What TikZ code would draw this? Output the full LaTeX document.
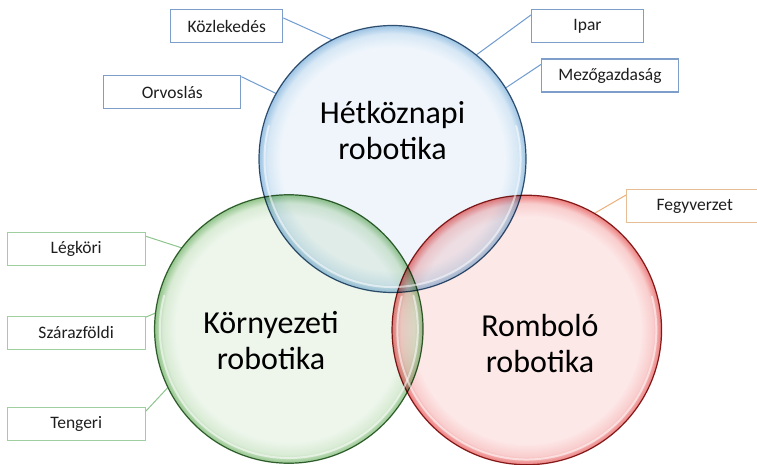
\documentclass[tikz,border=0pt]{standalone}
\usepackage{fontspec}
\setmainfont{Carlito}
\usetikzlibrary{calc}
\definecolor{bluein}{HTML}{EFF5FB}
\definecolor{bluemid}{HTML}{D6E7F5}
\definecolor{bluerim}{HTML}{9CC3E3}
\definecolor{blueline}{HTML}{3B5A78}
\definecolor{greenin}{HTML}{EEF6EC}
\definecolor{greenmid}{HTML}{D8EBD4}
\definecolor{greenrim}{HTML}{93C58C}
\definecolor{greenline}{HTML}{3D6B3A}
\definecolor{redin}{HTML}{FDE8E8}
\definecolor{redmid}{HTML}{F9CDCD}
\definecolor{redrim}{HTML}{EC7D7D}
\definecolor{redline}{HTML}{8B2323}
\definecolor{boxblue}{HTML}{7D9EC9}
\definecolor{lineblue}{HTML}{6F9BD0}
\definecolor{boxgreen}{HTML}{9FCF9F}
\definecolor{linegreen}{HTML}{8EC58E}
\definecolor{boxorange}{HTML}{E6BE96}
\definecolor{lineorange}{HTML}{EEB07A}
\definecolor{txt}{HTML}{1E1E1E}
\pgfdeclareradialshading{bluebub}{\pgfpoint{0bp}{0bp}}{color(0bp)=(bluein); color(21bp)=(bluein); color(23.5bp)=(bluemid); color(25bp)=(bluerim); color(50bp)=(bluerim)}
\pgfdeclareradialshading{greenbub}{\pgfpoint{0bp}{0bp}}{color(0bp)=(greenin); color(21bp)=(greenin); color(23.5bp)=(greenmid); color(25bp)=(greenrim); color(50bp)=(greenrim)}
\pgfdeclareradialshading{redbub}{\pgfpoint{0bp}{0bp}}{color(0bp)=(redin); color(21bp)=(redin); color(23.5bp)=(redmid); color(25bp)=(redrim); color(50bp)=(redrim)}
\begin{document}
\begin{tikzpicture}[x=1pt,y=-1pt,
  lbl/.style={draw, line width=1.1pt, fill=white, minimum height=33pt, inner sep=0pt,
    font=\fontsize{17.5}{20}\selectfont, text=txt},
  lblue/.style={lbl, draw=boxblue},
  lgreen/.style={lbl, draw=boxgreen},
  lorange/.style={lbl, draw=boxorange},
  link/.style={line width=1pt},
  big/.style={font=\fontsize{32}{36}\selectfont, align=center, text=black, inner sep=0pt},
  bub/.style={circle, inner sep=0pt, line width=1.2pt},
  glare/.style={white, line width=2pt, opacity=0.55, line cap=round}
]
\useasboundingbox (0,0) rectangle (757,465);
\fill[white] (0,0) rectangle (757,465);

% label boxes
\node[lblue, minimum width=112pt] (kz) at (226.7,26) {Közlekedés};
\node[lblue, minimum width=137pt] (or) at (172.3,92.2) {Orvoslás};
\node[lblue, minimum width=112pt] (ip) at (587.5,26) {Ipar};
\node[lblue, minimum width=137pt] (mz) at (610,75.5) {Mezőgazdaság};
\node[lorange, minimum width=136pt] (fg) at (694.7,206) {Fegyverzet};
\node[lgreen, minimum width=138pt] (lg) at (76.2,249.3) {Légköri};
\node[lgreen, minimum width=138pt] (sz) at (76.2,332.7) {Szárazföldi};
\node[lgreen, minimum width=138pt] (tg) at (76.2,423.8) {Tengeri};

% connector ends inside circles
\coordinate (kzp) at (350,48);
\coordinate (orp) at (282.7,96.7);
\coordinate (ipp) at (471.7,58.3);
\coordinate (mzp) at (500,91.7);
\coordinate (fgp) at (593.3,214);
\coordinate (lgp) at (188.3,250);
\coordinate (szp) at (176.7,304);
\coordinate (tgp) at (173.3,381.7);

\draw[link, lineblue] ([yshift=-9pt]kz.north east) -- (kzp);
\draw[link, lineblue] ([yshift=-1.5pt]or.north east) -- (orp);
\draw[link, lineblue] ([yshift=-6pt]ip.north west) -- (ipp);
\draw[link, lineblue] ([yshift=-6pt]mz.north west) -- (mzp);
\draw[link, lineorange] ([yshift=-6pt]fg.north west) -- (fgp);
\draw[link, linegreen] ([yshift=-4pt]lg.north east) -- (lgp);
\draw[link, linegreen] ([yshift=-1.5pt]sz.north east) -- (szp);
\draw[link, linegreen] ([yshift=-4.5pt]tg.north east) -- (tgp);

% bubbles
\begin{scope}[blend group=multiply]
  \node[bub, minimum size=267pt, shading=bluebub, draw=blueline] (hc) at (392.5,159) {};
  \node[bub, minimum size=268.5pt, shading=greenbub, draw=greenline] (kc) at (288.8,329) {};
  \node[bub, minimum size=269.5pt, shading=redbub, draw=redline] (rc) at (526.8,330) {};
\end{scope}

% glass highlights
\draw[glare] (hc.center) ++(-15:128) arc[start angle=-15, end angle=195, radius=128];
\draw[glare] (kc.center) ++(-15:129) arc[start angle=-15, end angle=195, radius=129];
\draw[glare] (rc.center) ++(-15:129.5) arc[start angle=-15, end angle=195, radius=129.5];

% circle titles
\node[big] (ht) at (392.5,131) {Hétköznapi\\robotika};
\node[big] (kt) at (271,341) {Környezeti\\robotika};
\node[big] (rt) at (540,343.5) {Romboló\\robotika};
\end{tikzpicture}
\end{document}
